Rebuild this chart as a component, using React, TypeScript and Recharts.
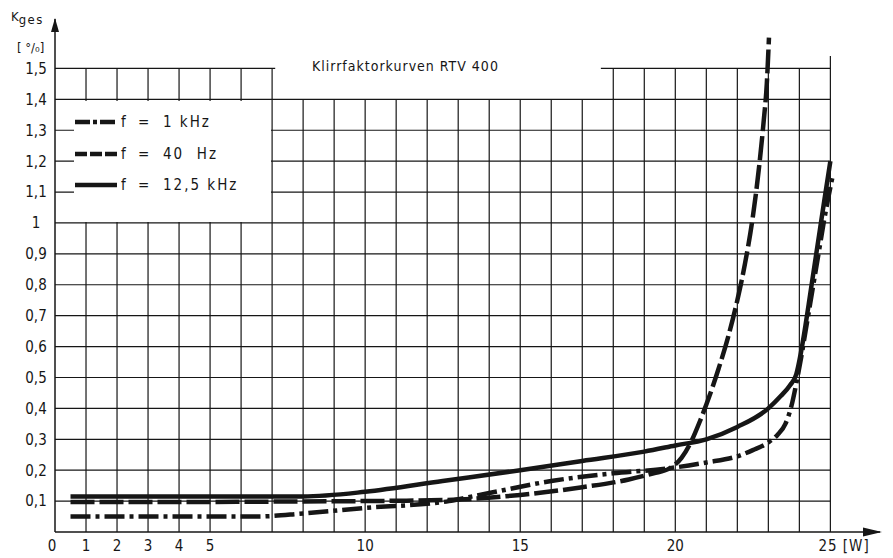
import { LineChart, Line, XAxis, YAxis, ReferenceLine, ReferenceDot, Legend } from "recharts";

// Ausgangsleistung [W] / Klirrfaktor [%]
const power1k = [0.5, 4, 6.5, 8, 10, 12.7, 13.3, 14, 16, 18, 19.7, 21, 22, 22.5, 23, 23.3, 23.55, 23.75, 23.9, 24.05, 24.2, 24.35, 24.5, 24.65, 24.8, 24.95, 25.08];
const kges1k = [0.05, 0.05, 0.05, 0.06, 0.078, 0.1, 0.112, 0.126, 0.165, 0.19, 0.205, 0.225, 0.245, 0.265, 0.29, 0.315, 0.35, 0.41, 0.48, 0.56, 0.65, 0.74, 0.83, 0.92, 1.01, 1.09, 1.155];

const power40 = [0.5, 4, 8, 11, 13, 15, 17, 18.5, 19.3, 19.8, 20.2, 20.5, 20.8, 21.1, 21.4, 21.7, 22.0, 22.25, 22.5, 22.7, 22.85, 22.95, 23.02];
const kges40 = [0.097, 0.097, 0.099, 0.101, 0.105, 0.12, 0.145, 0.17, 0.19, 0.205, 0.24, 0.29, 0.36, 0.44, 0.53, 0.63, 0.75, 0.87, 1.02, 1.18, 1.33, 1.45, 1.6];

const power12k = [0.5, 4, 8, 10, 12.5, 15, 17, 19, 20, 21, 22, 23, 23.4, 23.7, 23.9, 24.05, 24.2, 24.35, 24.5, 24.65, 24.8, 25];
const kges12k = [0.115, 0.115, 0.115, 0.13, 0.165, 0.2, 0.23, 0.26, 0.28, 0.3, 0.34, 0.4, 0.44, 0.475, 0.51, 0.58, 0.67, 0.77, 0.87, 0.97, 1.07, 1.2];

const xTicks = [0, 1, 2, 3, 4, 5, 10, 15, 20, 25];
const yTicks = [0.1, 0.2, 0.3, 0.4, 0.5, 0.6, 0.7, 0.8, 0.9, 1, 1.1, 1.2, 1.3, 1.4, 1.5];
const gridX = Array.from({ length: 25 }, (_, i) => i + 1);
const gridY = yTicks;

const toRows = (xs: number[], ys: number[]) => xs.map((p, i) => ({ p, k: ys[i] }));

const series = [
  { id: "1k", label: "1 kHz", rows: toRows(power1k, kges1k), dash: "20 5 4 5", sample: "15 3 4 3" },
  { id: "40", label: "40  Hz", rows: toRows(power40, kges40), dash: "24 5", sample: "12 3" },
  { id: "12k", label: "12,5 kHz", rows: toRows(power12k, kges12k), dash: undefined, sample: undefined },
];

const INK = "#161616";
const FONT = "'DejaVu Sans Condensed', 'DejaVu Sans', sans-serif";

const XTick = (props: any) => {
  const { x, y, payload } = props;
  const v = payload.value;
  if (v === 25) {
    return (
      <text x={x - 12} y={y} dy="0.71em" textAnchor="start" fontSize={15} fill={INK} fontFamily={FONT} letterSpacing={1}>
        25 [W]
      </text>
    );
  }
  return (
    <text x={v === 0 ? x - 3 : x} y={y} dy="0.71em" textAnchor="middle" fontSize={15} fill={INK} fontFamily={FONT}>
      {v}
    </text>
  );
};

const YTick = (props: any) => {
  const { x, y, payload } = props;
  return (
    <text x={x - 11} y={y} dy="0.36em" textAnchor="middle" fontSize={15} fill={INK} fontFamily={FONT}>
      {String(payload.value).replace(".", ",")}
    </text>
  );
};

const LegendBox = () => (
  <div style={{ position: "relative", width: "100%", height: "100%", background: "#fff", fontFamily: FONT, fontSize: 15, color: INK }}>
    {series.map((s, i) => {
      const top = 21 + i * 31.5;
      return (
        <div key={s.id} style={{ position: "absolute", left: 0, top: top - 10, height: 20, width: "100%" }}>
          <svg width={44} height={20} style={{ position: "absolute", left: 1, top: 0 }}>
            <line x1={0} y1={10} x2={42} y2={10} stroke={INK} strokeWidth={4.5} strokeDasharray={s.sample} />
          </svg>
          <span style={{ position: "absolute", left: 47, top: 0, lineHeight: "20px" }}>f</span>
          <span style={{ position: "absolute", left: 64, top: 0, lineHeight: "20px" }}>=</span>
          <span style={{ position: "absolute", left: 89, top: 0, lineHeight: "20px", whiteSpace: "pre", letterSpacing: 2 }}>
            {s.label}
          </span>
        </div>
      );
    })}
  </div>
);

const Arrow = (dir: "up" | "right") => (props: any) => {
  const { cx, cy } = props;
  if (dir === "up") {
    return <polygon points={`${cx},${cy - 1} ${cx - 4},${cy + 13} ${cx + 4},${cy + 13}`} fill={INK} />;
  }
  return <polygon points={`${cx + 2},${cy} ${cx - 17},${cy - 4.5} ${cx - 17},${cy + 4.5}`} fill={INK} />;
};

export default function App() {
  return (
    <div style={{ position: "fixed", left: 0, top: 0, width: 893, height: 558, background: "#fff" }}>
      <LineChart width={893} height={558} margin={{ top: 19, right: 13, bottom: 0, left: 0 }}>
        <XAxis
          type="number"
          dataKey="p"
          domain={[0, 26.6]}
          ticks={xTicks}
          tick={<XTick />}
          tickLine={false}
          axisLine={{ stroke: INK, strokeWidth: 1.5 }}
          height={26}
          allowDataOverflow
        />
        <YAxis
          type="number"
          domain={[0, 1.66]}
          ticks={yTicks}
          tick={<YTick />}
          tickLine={false}
          axisLine={{ stroke: INK, strokeWidth: 1.5 }}
          width={55}
          allowDataOverflow
        />

        {gridX.map((x) => {
          const top = x === 25 ? 1.54 : x > 7 && x < 18 ? 1.4 : 1.5;
          return (
            <ReferenceLine
              key={`vx${x}`}
              segment={[{ x, y: 0 }, { x, y: top }]}
              stroke={INK}
              strokeWidth={1.2}
              ifOverflow="visible"
            />
          );
        })}
        {gridY.map((y) => {
          const spans = y === 1.5 ? [[0, 7.1], [17.6, 25]] : [[0, 25]];
          return spans.map(([a, b]) => (
            <ReferenceLine
              key={`hy${y}-${a}`}
              segment={[{ x: a, y }, { x: b, y }]}
              stroke={INK}
              strokeWidth={1.2}
              ifOverflow="visible"
            />
          ));
        })}

        {series.map((s) => (
          <Line
            key={s.id}
            data={s.rows}
            dataKey="k"
            type="monotone"
            stroke={INK}
            strokeWidth={4.5}
            strokeDasharray={s.dash}
            dot={false}
            activeDot={false}
            legendType="none"
            isAnimationActive={false}
          />
        ))}

        <ReferenceDot x={26.6} y={0} r={0} ifOverflow="visible" shape={Arrow("right")} />
        <ReferenceDot x={0} y={1.66} r={0} ifOverflow="visible" shape={Arrow("up")} />

        <text x={312} y={71} fontSize={14} fill={INK} fontFamily={FONT} letterSpacing={1}>
          Klirrfaktorkurven RTV 400
        </text>
        <text x={11} y={21} fontSize={13} fill={INK} fontFamily={FONT}>
          K<tspan dy={3} letterSpacing={1.5}>ges</tspan>
        </text>
        <text x={17} y={52} fontSize={13} fill={INK} fontFamily={FONT}>
          [ °/₀]
        </text>

        <Legend
          layout="vertical"
          align="center"
          verticalAlign="middle"
          wrapperStyle={{ position: "absolute", left: 74, top: 101, width: 197, height: 121, margin: 0 }}
          content={() => <LegendBox />}
        />
      </LineChart>
    </div>
  );
}
